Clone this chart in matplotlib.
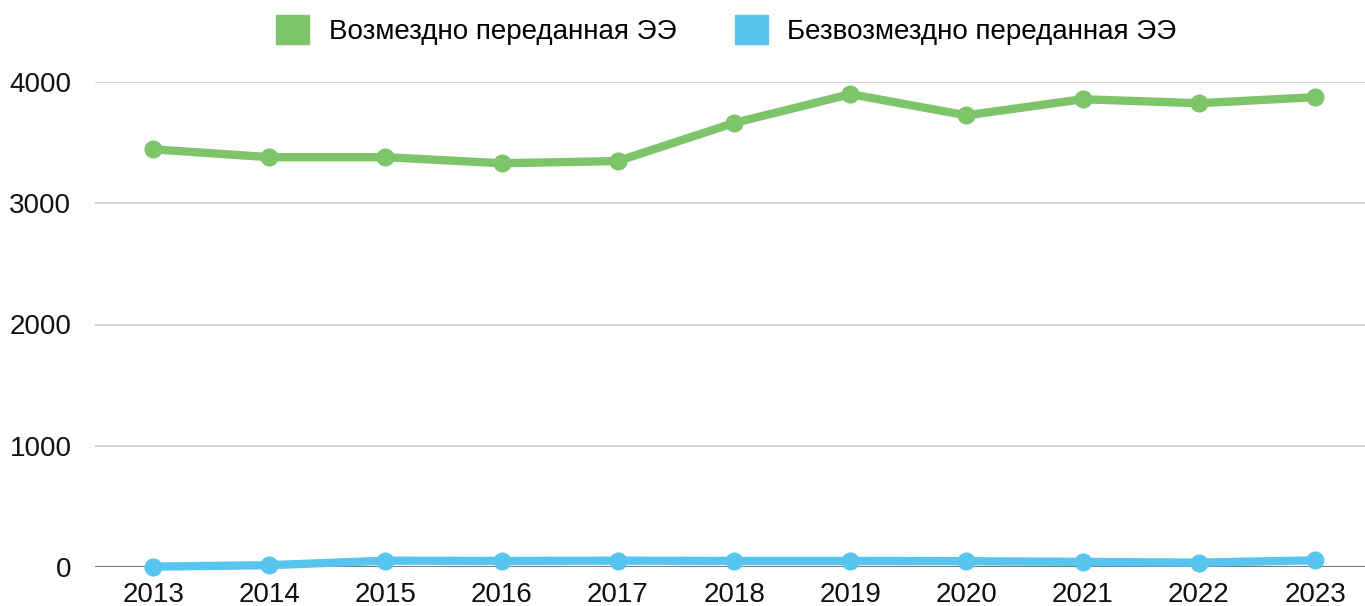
import numpy as np
import matplotlib.pyplot as plt
from matplotlib.patches import Patch

years = [2013, 2014, 2015, 2016, 2017, 2018, 2019, 2020, 2021, 2022, 2023]
paid = [3445, 3380, 3380, 3330, 3348, 3662, 3900, 3725, 3858, 3825, 3875]
free = [3, 15, 52, 50, 52, 50, 50, 48, 42, 36, 55]
labels = ['Возмездно переданная ЭЭ', 'Безвозмездно переданная ЭЭ']

green = '#7DC46A'
blue = '#58C5F0'

plt.rcParams['font.family'] = ['Liberation Sans', 'DejaVu Sans']

fig = plt.figure(figsize=(13.65, 6.06), dpi=100)
ax = fig.add_axes([95 / 1365, 39 / 606, 1 - 95 / 1365, (567 - 82) / 606])

ax.plot(years, paid, color=green, lw=6, marker='o', ms=12, clip_on=False, zorder=3)
ax.plot(years, free, color=blue, lw=6, marker='o', ms=12, clip_on=False, zorder=3)

ax.set_xlim(2012.5, 2023.43)
ax.set_ylim(0, 4000)
ax.set_yticks([0, 1000, 2000, 3000, 4000])
ax.set_xticks(years)
ax.grid(axis='y', color='#cccccc', lw=1.2)
ax.axhline(0, color='#7a7a7a', lw=1.5, zorder=2)
ax.set_axisbelow(True)
for s in ax.spines.values():
    s.set_visible(False)
ax.tick_params(length=0, labelsize=20, colors='#111111')
ax.tick_params(axis='y', pad=17)
ax.tick_params(axis='x', pad=11)

handles = [Patch(color=green), Patch(color=blue)]
fig.legend(handles, labels, loc='center', bbox_to_anchor=(0.532, 0.95), ncol=2,
           frameon=False, fontsize=20, handlelength=1.2, handleheight=1.2,
           columnspacing=2.1, handletextpad=0.7)

fig.savefig('out.png', dpi=100)
